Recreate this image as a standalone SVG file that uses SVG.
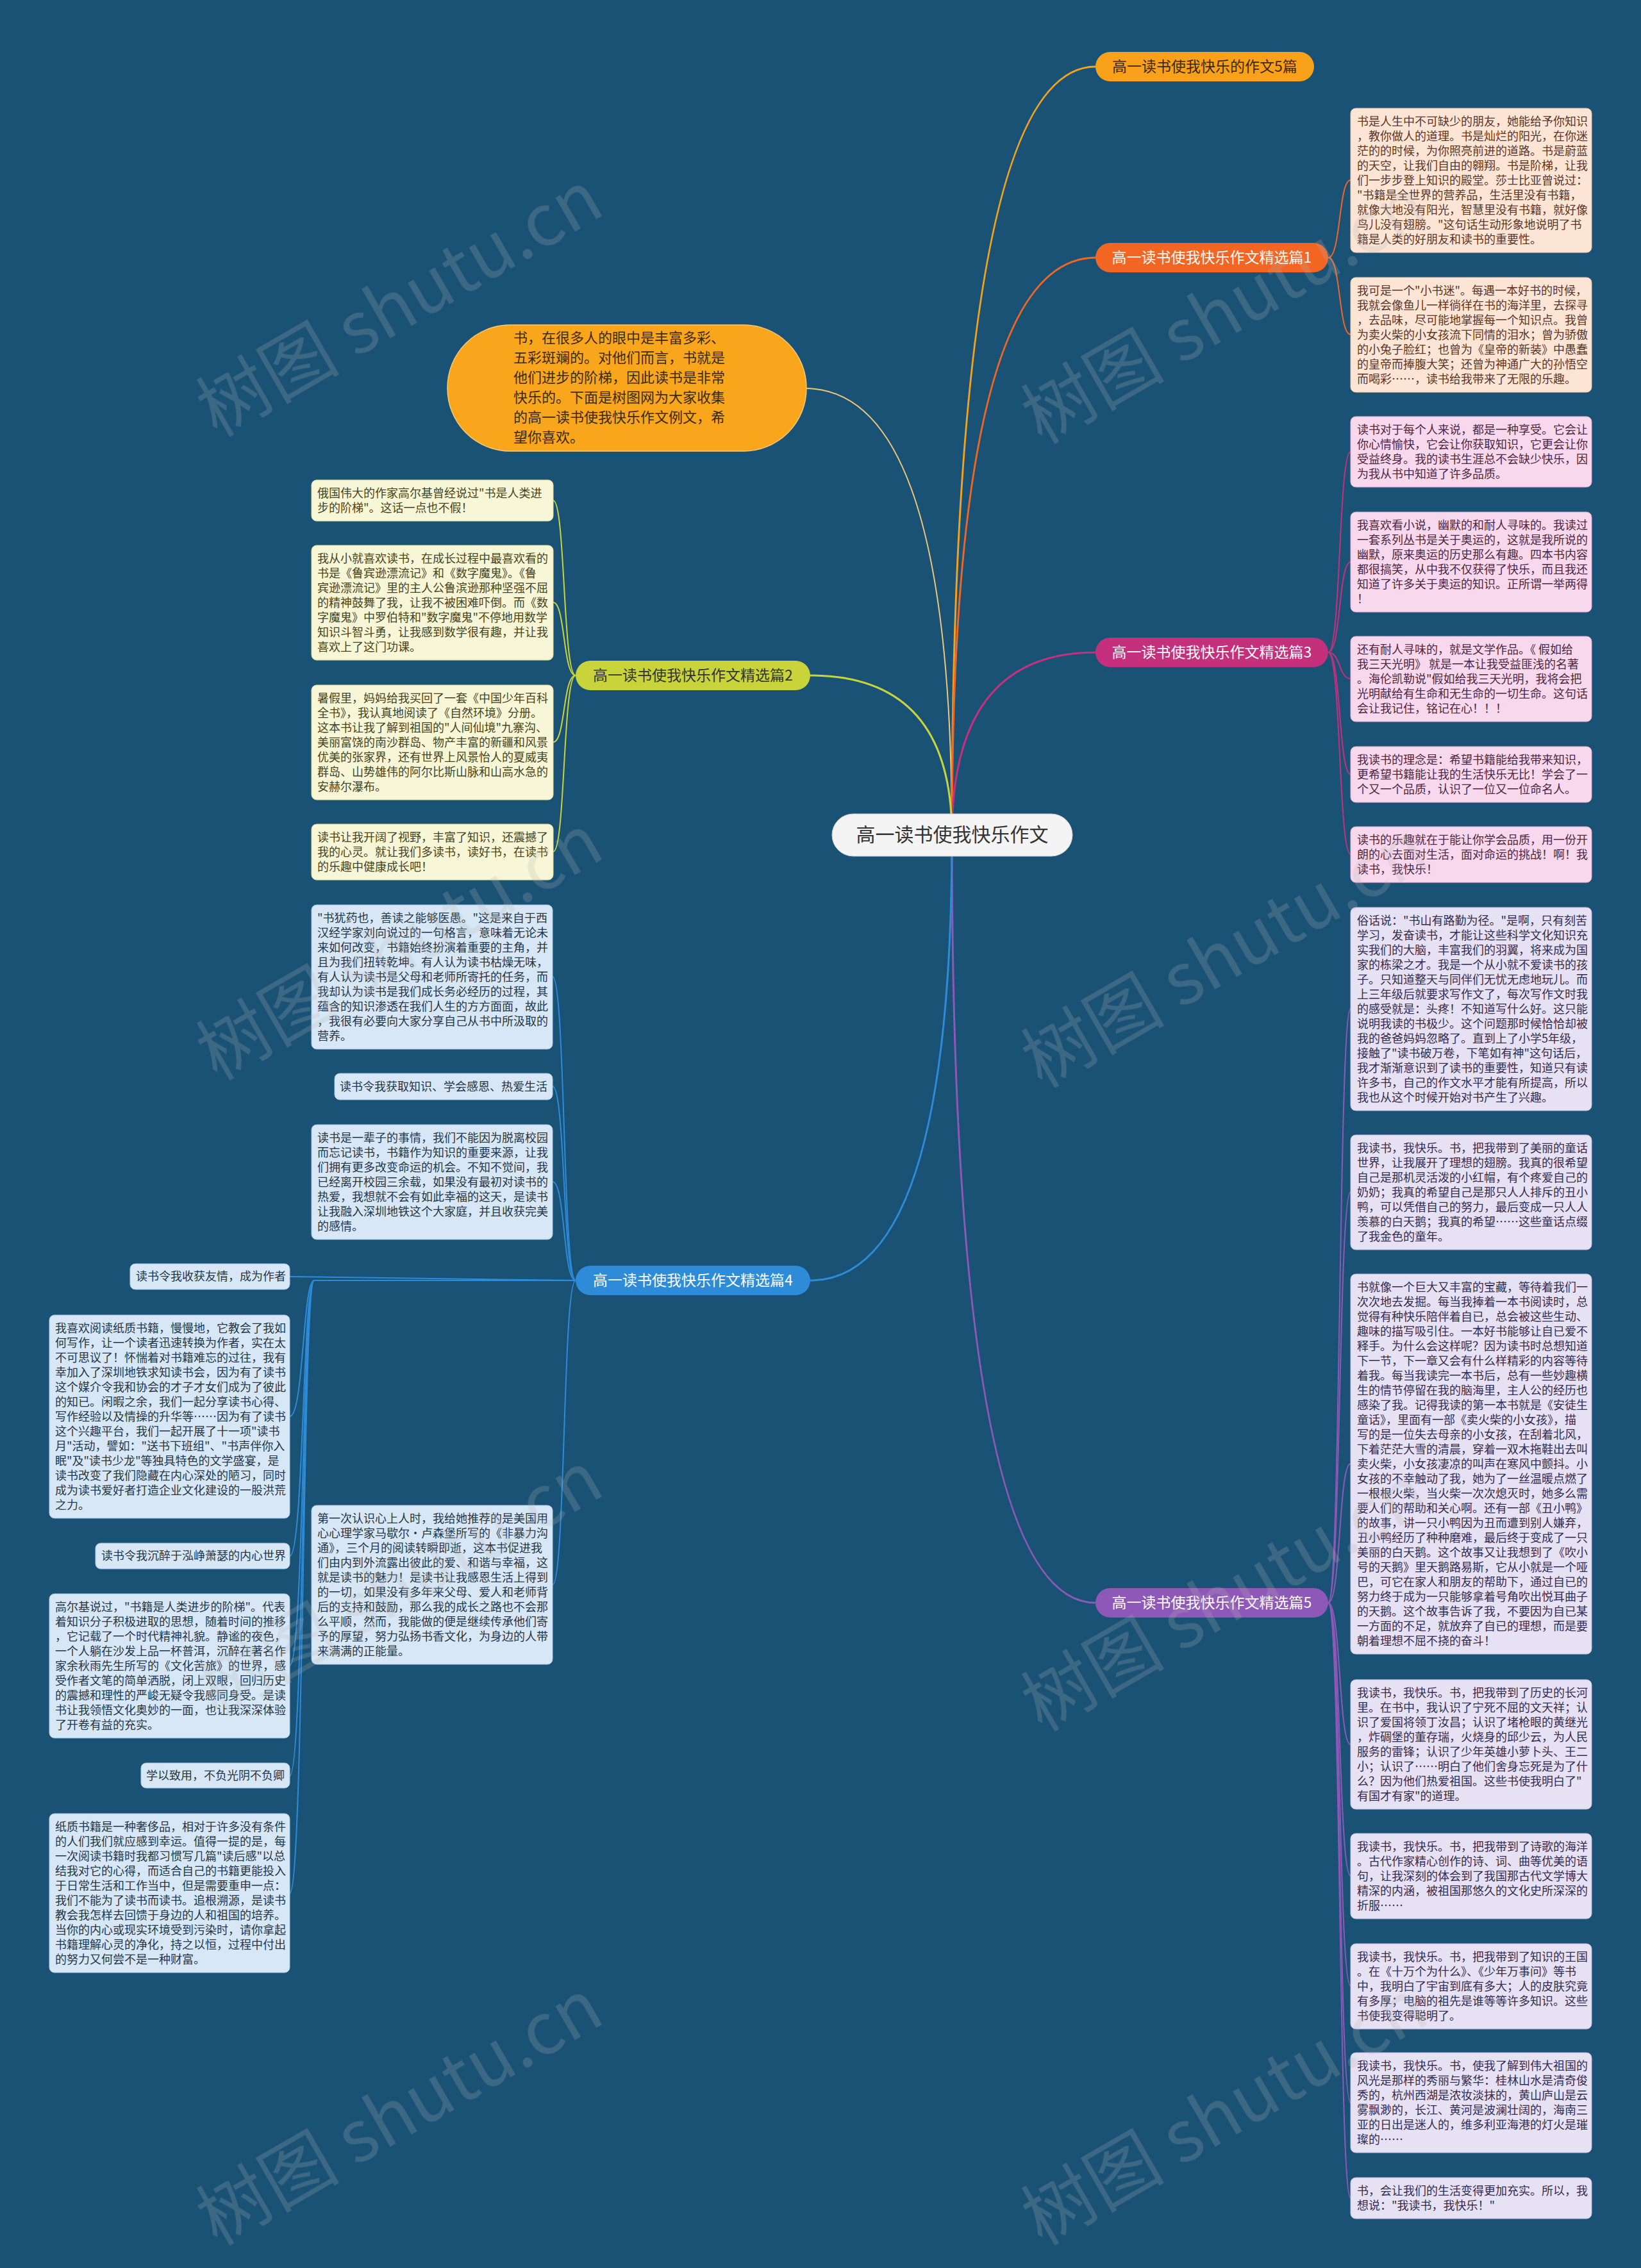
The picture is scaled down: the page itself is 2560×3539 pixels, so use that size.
<svg xmlns="http://www.w3.org/2000/svg" width="2560" height="3539" viewBox="0 0 2560 3539">
<style>
text{font-family:"Noto Sans CJK SC","Noto Sans",sans-serif}
.t{font-size:18px}
.lb{font-size:23px;text-anchor:middle}
.ln{fill:none;stroke-width:3}
.cn{fill:none;stroke-width:2}
.b1{fill:#fde5d6;stroke:#f6c2a4;stroke-width:1}
.b3{fill:#f7d8ec;stroke:#e9a9cf;stroke-width:1}
.b5{fill:#e6e1f3;stroke:#c6bce3;stroke-width:1}
.b2{fill:#f7f6d6;stroke:#dfe09a;stroke-width:1}
.b4{fill:#d8e7f5;stroke:#a9c9ea;stroke-width:1}
.x1{fill:#5a3526}.x3{fill:#4d2640}.x5{fill:#342c4f}.x2{fill:#45441c}.x4{fill:#243647}
.wm{font-family:"Liberation Serif","Noto Sans CJK SC",serif;font-size:112px;fill:#b8b8b8;opacity:0.22}
</style>
<rect width="2560" height="3539" fill="#1a5276"/>

<g id="connectors">
<path class="ln" stroke="#f5a31a" d="M1485 1303 Q1485 104 1709 104"/>
<path class="cn" stroke="#f2c77a" d="M1485 1303 Q1485 606 1256 606"/>
<path class="ln" stroke="#f26522" d="M1485 1303 Q1485 402 1709 402"/>
<path class="ln" stroke="#c4307c" d="M1485 1303 Q1485 1018 1709 1018"/>
<path class="ln" stroke="#8e58b8" d="M1485 1303 Q1485 2501 1709 2501"/>
<path class="ln" stroke="#c8d43a" d="M1485 1303 Q1485 1054 1264 1054"/>
<path class="ln" stroke="#2e8bd8" d="M1485 1303 Q1485 1998 1264 1998"/>

<g stroke="#f26522">
<path class="cn" d="M2072 402 C2092 402 2088 281 2107 281"/>
<path class="cn" d="M2072 402 C2092 402 2088 522 2107 522"/>
</g>
<g stroke="#c4307c">
<path class="cn" d="M2072 1018 C2092 1018 2088 705 2107 705"/>
<path class="cn" d="M2072 1018 C2092 1018 2088 877 2107 877"/>
<path class="cn" d="M2072 1018 C2092 1018 2088 1059 2107 1059"/>
<path class="cn" d="M2072 1018 C2092 1018 2088 1208 2107 1208"/>
<path class="cn" d="M2072 1018 C2092 1018 2088 1333 2107 1333"/>
</g>
<g stroke="#8e58b8">
<path class="cn" d="M2072 2501 C2092 2501 2088 1574 2107 1574"/>
<path class="cn" d="M2072 2501 C2092 2501 2088 1860 2107 1860"/>
<path class="cn" d="M2072 2501 C2092 2501 2088 2284 2107 2284"/>
<path class="cn" d="M2072 2501 C2092 2501 2088 2722 2107 2722"/>
<path class="cn" d="M2072 2501 C2092 2501 2088 2927 2107 2927"/>
<path class="cn" d="M2072 2501 C2092 2501 2088 3099 2107 3099"/>
<path class="cn" d="M2072 2501 C2092 2501 2088 3281 2107 3281"/>
<path class="cn" d="M2072 2501 C2092 2501 2088 3430 2107 3430"/>
</g>
<g stroke="#c8d43a">
<path class="cn" d="M898 1054 C878 1054 882 781 863 781"/>
<path class="cn" d="M898 1054 C878 1054 882 940 863 940"/>
<path class="cn" d="M898 1054 C878 1054 882 1158 863 1158"/>
<path class="cn" d="M898 1054 C878 1054 882 1329 863 1329"/>
</g>
<g stroke="#2e8bd8">
<path class="cn" d="M898 1998 C878 1998 882 1524 862 1524"/>
<path class="cn" d="M898 1998 C878 1998 882 1695 862 1695"/>
<path class="cn" d="M898 1998 C878 1998 882 1844 862 1844"/>
<path class="cn" d="M898 1998 C878 1998 882 2473 862 2473"/>
<path class="cn" d="M898 1998 L452 1992"/>
<path class="cn" d="M898 1998 L490 1998 C472 1998 474 2210 452 2210"/>
<path class="cn" d="M898 1998 L490 1998 C472 1998 474 2428 452 2428"/>
<path class="cn" d="M898 1998 L490 1998 C472 1998 474 2599 452 2599"/>
<path class="cn" d="M898 1998 L490 1998 C472 1998 474 2771 452 2771"/>
<path class="cn" d="M898 1998 L490 1998 C472 1998 474 2954 452 2954"/>
</g>
</g>

<g id="center">
<rect x="1298" y="1270" width="375" height="66" rx="33" fill="#f4f4f4" stroke="#d0d0d0"/>
<text x="1485.5" y="1313" font-size="30" text-anchor="middle" fill="#333333">高一读书使我快乐作文</text>
</g>

<g id="intro">
<rect x="698" y="507" width="560" height="197" rx="98" fill="#f9a61c" stroke="#f6c775" stroke-width="1.5"/>
<text font-size="22" fill="#3a2a10">
<tspan x="801" y="535">书，在很多人的眼中是丰富多彩、</tspan>
<tspan x="801" y="566">五彩斑斓的。对他们而言，书就是</tspan>
<tspan x="801" y="597">他们进步的阶梯，因此读书是非常</tspan>
<tspan x="801" y="628">快乐的。下面是树图网为大家收集</tspan>
<tspan x="801" y="659">的高一读书使我快乐作文例文，希</tspan>
<tspan x="801" y="690">望你喜欢。</tspan>
</text>
</g>

<g id="label-5pian">
<rect x="1709" y="81" width="341" height="46" rx="23" fill="#f9a11b"/>
<text class="lb" x="1879.5" y="112" fill="#3a2800">高一读书使我快乐的作文5篇</text>
</g>
<g id="label-p1">
<rect x="1709" y="379" width="363" height="46" rx="23" fill="#f26522"/>
<text class="lb" x="1890.5" y="410" fill="#ffffff">高一读书使我快乐作文精选篇1</text>
</g>
<g id="label-p3">
<rect x="1709" y="995" width="363" height="46" rx="23" fill="#c4307c"/>
<text class="lb" x="1890.5" y="1026" fill="#ffffff">高一读书使我快乐作文精选篇3</text>
</g>
<g id="label-p5">
<rect x="1709" y="2478" width="363" height="46" rx="23" fill="#8e58b8"/>
<text class="lb" x="1890.5" y="2509" fill="#ffffff">高一读书使我快乐作文精选篇5</text>
</g>
<g id="label-p2">
<rect x="898" y="1031" width="366" height="46" rx="23" fill="#c8d43a"/>
<text class="lb" x="1081" y="1062" fill="#333333">高一读书使我快乐作文精选篇2</text>
</g>
<g id="label-p4">
<rect x="898" y="1975" width="366" height="46" rx="23" fill="#2e8bd8"/>
<text class="lb" x="1081" y="2006" fill="#ffffff">高一读书使我快乐作文精选篇4</text>
</g>

<g id="p1-a">
<rect class="b1" x="2107" y="169" width="376" height="225" rx="8"/>
<text class="t x1"><tspan x="2117" y="196">书是人生中不可缺少的朋友，她能给予你知识</tspan><tspan x="2117" dy="23">，教你做人的道理。书是灿烂的阳光，在你迷</tspan><tspan x="2117" dy="23">茫的的时候，为你照亮前进的道路。书是蔚蓝</tspan><tspan x="2117" dy="23">的天空，让我们自由的翱翔。书是阶梯，让我</tspan><tspan x="2117" dy="23">们一步步登上知识的殿堂。莎士比亚曾说过：</tspan><tspan x="2117" dy="23">"书籍是全世界的营养品，生活里没有书籍，</tspan><tspan x="2117" dy="23">就像大地没有阳光，智慧里没有书籍，就好像</tspan><tspan x="2117" dy="23">鸟儿没有翅膀。"这句话生动形象地说明了书</tspan><tspan x="2117" dy="23">籍是人类的好朋友和读书的重要性。</tspan></text>
</g>
<g id="p1-b">
<rect class="b1" x="2107" y="433" width="376" height="179" rx="8"/>
<text class="t x1"><tspan x="2117" y="460">我可是一个"小书迷"。每遇一本好书的时候，</tspan><tspan x="2117" dy="23">我就会像鱼儿一样徜徉在书的海洋里，去探寻</tspan><tspan x="2117" dy="23">，去品味，尽可能地掌握每一个知识点。我曾</tspan><tspan x="2117" dy="23">为卖火柴的小女孩流下同情的泪水；曾为骄傲</tspan><tspan x="2117" dy="23">的小兔子脸红；也曾为《皇帝的新装》中愚蠢</tspan><tspan x="2117" dy="23">的皇帝而捧腹大笑；还曾为神通广大的孙悟空</tspan><tspan x="2117" dy="23">而喝彩……，读书给我带来了无限的乐趣。</tspan></text>
</g>

<g id="p3-a">
<rect class="b3" x="2107" y="650" width="376" height="110" rx="8"/>
<text class="t x3"><tspan x="2117" y="677">读书对于每个人来说，都是一种享受。它会让</tspan><tspan x="2117" dy="23">你心情愉快，它会让你获取知识，它更会让你</tspan><tspan x="2117" dy="23">受益终身。我的读书生涯总不会缺少快乐，因</tspan><tspan x="2117" dy="23">为我从书中知道了许多品质。</tspan></text>
</g>
<g id="p3-b">
<rect class="b3" x="2107" y="799" width="376" height="156" rx="8"/>
<text class="t x3"><tspan x="2117" y="826">我喜欢看小说，幽默的和耐人寻味的。我读过</tspan><tspan x="2117" dy="23">一套系列丛书是关于奥运的，这就是我所说的</tspan><tspan x="2117" dy="23">幽默，原来奥运的历史那么有趣。四本书内容</tspan><tspan x="2117" dy="23">都很搞笑，从中我不仅获得了快乐，而且我还</tspan><tspan x="2117" dy="23">知道了许多关于奥运的知识。正所谓一举两得</tspan><tspan x="2117" dy="23">！</tspan></text>
</g>
<g id="p3-c">
<rect class="b3" x="2107" y="993" width="376" height="133" rx="8"/>
<text class="t x3"><tspan x="2117" y="1020">还有耐人寻味的，就是文学作品。《 假如给</tspan><tspan x="2117" dy="23">我三天光明》 就是一本让我受益匪浅的名著</tspan><tspan x="2117" dy="23">。海伦凯勒说"假如给我三天光明，我将会把</tspan><tspan x="2117" dy="23">光明献给有生命和无生命的一切生命。这句话</tspan><tspan x="2117" dy="23">会让我记住，铭记在心！！！</tspan></text>
</g>
<g id="p3-d">
<rect class="b3" x="2107" y="1165" width="376" height="87" rx="8"/>
<text class="t x3"><tspan x="2117" y="1192">我读书的理念是：希望书籍能给我带来知识，</tspan><tspan x="2117" dy="23">更希望书籍能让我的生活快乐无比！学会了一</tspan><tspan x="2117" dy="23">个又一个品质，认识了一位又一位命名人。</tspan></text>
</g>
<g id="p3-e">
<rect class="b3" x="2107" y="1290" width="376" height="87" rx="8"/>
<text class="t x3"><tspan x="2117" y="1317">读书的乐趣就在于能让你学会品质，用一份开</tspan><tspan x="2117" dy="23">朗的心去面对生活，面对命运的挑战！啊！我</tspan><tspan x="2117" dy="23">读书，我快乐！</tspan></text>
</g>

<g id="p5-a">
<rect class="b5" x="2107" y="1416" width="376" height="317" rx="8"/>
<text class="t x5"><tspan x="2117" y="1443">俗话说："书山有路勤为径。"是啊，只有刻苦</tspan><tspan x="2117" dy="23">学习，发奋读书，才能让这些科学文化知识充</tspan><tspan x="2117" dy="23">实我们的大脑，丰富我们的羽翼，将来成为国</tspan><tspan x="2117" dy="23">家的栋梁之才。我是一个从小就不爱读书的孩</tspan><tspan x="2117" dy="23">子。只知道整天与同伴们无忧无虑地玩儿。而</tspan><tspan x="2117" dy="23">上三年级后就要求写作文了，每次写作文时我</tspan><tspan x="2117" dy="23">的感受就是：头疼！不知道写什么好。这只能</tspan><tspan x="2117" dy="23">说明我读的书极少。这个问题那时候恰恰却被</tspan><tspan x="2117" dy="23">我的爸爸妈妈忽略了。直到上了小学5年级，</tspan><tspan x="2117" dy="23">接触了"读书破万卷，下笔如有神"这句话后，</tspan><tspan x="2117" dy="23">我才渐渐意识到了读书的重要性，知道只有读</tspan><tspan x="2117" dy="23">许多书，自己的作文水平才能有所提高，所以</tspan><tspan x="2117" dy="23">我也从这个时候开始对书产生了兴趣。</tspan></text>
</g>
<g id="p5-b">
<rect class="b5" x="2107" y="1771" width="376" height="179" rx="8"/>
<text class="t x5"><tspan x="2117" y="1798">我读书，我快乐。书，把我带到了美丽的童话</tspan><tspan x="2117" dy="23">世界，让我展开了理想的翅膀。我真的很希望</tspan><tspan x="2117" dy="23">自己是那机灵活泼的小红帽，有个疼爱自己的</tspan><tspan x="2117" dy="23">奶奶；我真的希望自己是那只人人排斥的丑小</tspan><tspan x="2117" dy="23">鸭，可以凭借自己的努力，最后变成一只人人</tspan><tspan x="2117" dy="23">羡慕的白天鹅；我真的希望……这些童话点缀</tspan><tspan x="2117" dy="23">了我金色的童年。</tspan></text>
</g>
<g id="p5-c">
<rect class="b5" x="2107" y="1988" width="376" height="593" rx="8"/>
<text class="t x5"><tspan x="2117" y="2015">书就像一个巨大又丰富的宝藏，等待着我们一</tspan><tspan x="2117" dy="23">次次地去发掘。每当我捧着一本书阅读时，总</tspan><tspan x="2117" dy="23">觉得有种快乐陪伴着自已，总会被这些生动、</tspan><tspan x="2117" dy="23">趣味的描写吸引住。一本好书能够让自已爱不</tspan><tspan x="2117" dy="23">释手。为什么会这样呢？因为读书时总想知道</tspan><tspan x="2117" dy="23">下一节，下一章又会有什么样精彩的内容等待</tspan><tspan x="2117" dy="23">着我。每当我读完一本书后，总有一些妙趣横</tspan><tspan x="2117" dy="23">生的情节停留在我的脑海里，主人公的经历也</tspan><tspan x="2117" dy="23">感染了我。记得我读的第一本书就是《安徒生</tspan><tspan x="2117" dy="23">童话》，里面有一部《卖火柴的小女孩》，描</tspan><tspan x="2117" dy="23">写的是一位失去母亲的小女孩，在刮着北风，</tspan><tspan x="2117" dy="23">下着茫茫大雪的清晨，穿着一双木拖鞋出去叫</tspan><tspan x="2117" dy="23">卖火柴，小女孩凄凉的叫声在寒风中颤抖。小</tspan><tspan x="2117" dy="23">女孩的不幸触动了我，她为了一丝温暖点燃了</tspan><tspan x="2117" dy="23">一根根火柴，当火柴一次次熄灭时，她多么需</tspan><tspan x="2117" dy="23">要人们的帮助和关心啊。还有一部《丑小鸭》</tspan><tspan x="2117" dy="23">的故事，讲一只小鸭因为丑而遭到别人嫌弃，</tspan><tspan x="2117" dy="23">丑小鸭经历了种种磨难，最后终于变成了一只</tspan><tspan x="2117" dy="23">美丽的白天鹅。这个故事又让我想到了《吹小</tspan><tspan x="2117" dy="23">号的天鹅》里天鹅路易斯，它从小就是一个哑</tspan><tspan x="2117" dy="23">巴，可它在家人和朋友的帮助下，通过自已的</tspan><tspan x="2117" dy="23">努力终于成为一只能够拿着号角吹出悦耳曲子</tspan><tspan x="2117" dy="23">的天鹅。这个故事告诉了我，不要因为自已某</tspan><tspan x="2117" dy="23">一方面的不足，就放弃了自已的理想，而是要</tspan><tspan x="2117" dy="23">朝着理想不屈不挠的奋斗！</tspan></text>
</g>
<g id="p5-d">
<rect class="b5" x="2107" y="2621" width="376" height="202" rx="8"/>
<text class="t x5"><tspan x="2117" y="2648">我读书，我快乐。书，把我带到了历史的长河</tspan><tspan x="2117" dy="23">里。在书中，我认识了宁死不屈的文天祥；认</tspan><tspan x="2117" dy="23">识了爱国将领丁汝昌；认识了堵枪眼的黄继光</tspan><tspan x="2117" dy="23">，炸碉堡的董存瑞，火烧身的邱少云，为人民</tspan><tspan x="2117" dy="23">服务的雷锋；认识了少年英雄小萝卜头、王二</tspan><tspan x="2117" dy="23">小；认识了……明白了他们舍身忘死是为了什</tspan><tspan x="2117" dy="23">么？因为他们热爱祖国。这些书使我明白了"</tspan><tspan x="2117" dy="23">有国才有家"的道理。</tspan></text>
</g>
<g id="p5-e">
<rect class="b5" x="2107" y="2861" width="376" height="133" rx="8"/>
<text class="t x5"><tspan x="2117" y="2888">我读书，我快乐。书，把我带到了诗歌的海洋</tspan><tspan x="2117" dy="23">。古代作家精心创作的诗、词、曲等优美的语</tspan><tspan x="2117" dy="23">句，让我深刻的体会到了我国那古代文学博大</tspan><tspan x="2117" dy="23">精深的内涵，被祖国那悠久的文化史所深深的</tspan><tspan x="2117" dy="23">折服……</tspan></text>
</g>
<g id="p5-f">
<rect class="b5" x="2107" y="3033" width="376" height="133" rx="8"/>
<text class="t x5"><tspan x="2117" y="3060">我读书，我快乐。书，把我带到了知识的王国</tspan><tspan x="2117" dy="23">。在《十万个为什么》、《少年万事问》等书</tspan><tspan x="2117" dy="23">中，我明白了宇宙到底有多大；人的皮肤究竟</tspan><tspan x="2117" dy="23">有多厚；电脑的祖先是谁等等许多知识。这些</tspan><tspan x="2117" dy="23">书使我变得聪明了。</tspan></text>
</g>
<g id="p5-g">
<rect class="b5" x="2107" y="3203" width="376" height="156" rx="8"/>
<text class="t x5"><tspan x="2117" y="3230">我读书，我快乐。书，使我了解到伟大祖国的</tspan><tspan x="2117" dy="23">风光是那样的秀丽与繁华：桂林山水是清奇俊</tspan><tspan x="2117" dy="23">秀的，杭州西湖是浓妆淡抹的，黄山庐山是云</tspan><tspan x="2117" dy="23">雾飘渺的，长江、黄河是波澜壮阔的，海南三</tspan><tspan x="2117" dy="23">亚的日出是迷人的，维多利亚海港的灯火是璀</tspan><tspan x="2117" dy="23">璨的……</tspan></text>
</g>
<g id="p5-h">
<rect class="b5" x="2107" y="3398" width="376" height="64" rx="8"/>
<text class="t x5"><tspan x="2117" y="3425">书，会让我们的生活变得更加充实。所以，我</tspan><tspan x="2117" dy="23">想说："我读书，我快乐！"</tspan></text>
</g>

<g id="p2-a">
<rect class="b2" x="486" y="749" width="377" height="64" rx="8"/>
<text class="t x2"><tspan x="495" y="776">俄国伟大的作家高尔基曾经说过"书是人类进</tspan><tspan x="495" dy="23">步的阶梯"。这话一点也不假！</tspan></text>
</g>
<g id="p2-b">
<rect class="b2" x="486" y="851" width="377" height="179" rx="8"/>
<text class="t x2"><tspan x="495" y="878">我从小就喜欢读书，在成长过程中最喜欢看的</tspan><tspan x="495" dy="23">书是《鲁宾逊漂流记》和《数字魔鬼》。《鲁</tspan><tspan x="495" dy="23">宾逊漂流记》里的主人公鲁滨逊那种坚强不屈</tspan><tspan x="495" dy="23">的精神鼓舞了我，让我不被困难吓倒。而《数</tspan><tspan x="495" dy="23">字魔鬼》中罗伯特和"数字魔鬼"不停地用数学</tspan><tspan x="495" dy="23">知识斗智斗勇，让我感到数学很有趣，并让我</tspan><tspan x="495" dy="23">喜欢上了这门功课。</tspan></text>
</g>
<g id="p2-c">
<rect class="b2" x="486" y="1069" width="377" height="179" rx="8"/>
<text class="t x2"><tspan x="495" y="1096">暑假里，妈妈给我买回了一套《中国少年百科</tspan><tspan x="495" dy="23">全书》，我认真地阅读了《自然环境》分册。</tspan><tspan x="495" dy="23">这本书让我了解到祖国的"人间仙境"九寨沟、</tspan><tspan x="495" dy="23">美丽富饶的南沙群岛、物产丰富的新疆和风景</tspan><tspan x="495" dy="23">优美的张家界，还有世界上风景怡人的夏威夷</tspan><tspan x="495" dy="23">群岛、山势雄伟的阿尔比斯山脉和山高水急的</tspan><tspan x="495" dy="23">安赫尔瀑布。</tspan></text>
</g>
<g id="p2-d">
<rect class="b2" x="486" y="1286" width="377" height="87" rx="8"/>
<text class="t x2"><tspan x="495" y="1313">读书让我开阔了视野，丰富了知识，还震撼了</tspan><tspan x="495" dy="23">我的心灵。就让我们多读书，读好书，在读书</tspan><tspan x="495" dy="23">的乐趣中健康成长吧！</tspan></text>
</g>

<g id="p4-a">
<rect class="b4" x="486" y="1412" width="376" height="225" rx="8"/>
<text class="t x4"><tspan x="495" y="1439">"书犹药也，善读之能够医愚。"这是来自于西</tspan><tspan x="495" dy="23">汉经学家刘向说过的一句格言，意味着无论未</tspan><tspan x="495" dy="23">来如何改变，书籍始终扮演着重要的主角，并</tspan><tspan x="495" dy="23">且为我们扭转乾坤。有人认为读书枯燥无味，</tspan><tspan x="495" dy="23">有人认为读书是父母和老师所寄托的任务，而</tspan><tspan x="495" dy="23">我却认为读书是我们成长务必经历的过程，其</tspan><tspan x="495" dy="23">蕴含的知识渗透在我们人生的方方面面，故此</tspan><tspan x="495" dy="23">，我很有必要向大家分享自己从书中所汲取的</tspan><tspan x="495" dy="23">营养。</tspan></text>
</g>
<g id="p4-b">
<rect class="b4" x="522" y="1675" width="340" height="41" rx="8"/>
<text class="t x4" x="530" y="1702">读书令我获取知识、学会感恩、热爱生活</text>
</g>
<g id="p4-c">
<rect class="b4" x="486" y="1755" width="376" height="179" rx="8"/>
<text class="t x4"><tspan x="495" y="1782">读书是一辈子的事情，我们不能因为脱离校园</tspan><tspan x="495" dy="23">而忘记读书，书籍作为知识的重要来源，让我</tspan><tspan x="495" dy="23">们拥有更多改变命运的机会。不知不觉间，我</tspan><tspan x="495" dy="23">已经离开校园三余载，如果没有最初对读书的</tspan><tspan x="495" dy="23">热爱，我想就不会有如此幸福的这天，是读书</tspan><tspan x="495" dy="23">让我融入深圳地铁这个大家庭，并且收获完美</tspan><tspan x="495" dy="23">的感情。</tspan></text>
</g>
<g id="p4-d">
<rect class="b4" x="486" y="2349" width="376" height="248" rx="8"/>
<text class="t x4"><tspan x="495" y="2376">第一次认识心上人时，我给她推荐的是美国用</tspan><tspan x="495" dy="23">心心理学家马歇尔·卢森堡所写的《非暴力沟</tspan><tspan x="495" dy="23">通》，三个月的阅读转瞬即逝，这本书促进我</tspan><tspan x="495" dy="23">们由内到外流露出彼此的爱、和谐与幸福，这</tspan><tspan x="495" dy="23">就是读书的魅力！是读书让我感恩生活上得到</tspan><tspan x="495" dy="23">的一切，如果没有多年来父母、爱人和老师背</tspan><tspan x="495" dy="23">后的支持和鼓励，那么我的成长之路也不会那</tspan><tspan x="495" dy="23">么平顺，然而，我能做的便是继续传承他们寄</tspan><tspan x="495" dy="23">予的厚望，努力弘扬书香文化，为身边的人带</tspan><tspan x="495" dy="23">来满满的正能量。</tspan></text>
</g>
<g id="p4-e">
<rect class="b4" x="203" y="1972" width="249" height="40" rx="8"/>
<text class="t x4" x="212" y="1998">读书令我收获友情，成为作者</text>
</g>
<g id="p4-f">
<rect class="b4" x="77" y="2052" width="375" height="317" rx="8"/>
<text class="t x4"><tspan x="86" y="2079">我喜欢阅读纸质书籍，慢慢地，它教会了我如</tspan><tspan x="86" dy="23">何写作，让一个读者迅速转换为作者，实在太</tspan><tspan x="86" dy="23">不可思议了！怀惴着对书籍难忘的过往，我有</tspan><tspan x="86" dy="23">幸加入了深圳地铁求知读书会，因为有了读书</tspan><tspan x="86" dy="23">这个媒介令我和协会的才子才女们成为了彼此</tspan><tspan x="86" dy="23">的知已。闲暇之余，我们一起分享读书心得、</tspan><tspan x="86" dy="23">写作经验以及情操的升华等……因为有了读书</tspan><tspan x="86" dy="23">这个兴趣平台，我们一起开展了十一项"读书</tspan><tspan x="86" dy="23">月"活动，譬如："送书下班组"、"书声伴你入</tspan><tspan x="86" dy="23">眠"及"读书少龙"等独具特色的文学盛宴，是</tspan><tspan x="86" dy="23">读书改变了我们隐藏在内心深处的陋习，同时</tspan><tspan x="86" dy="23">成为读书爱好者打造企业文化建设的一股洪荒</tspan><tspan x="86" dy="23">之力。</tspan></text>
</g>
<g id="p4-g">
<rect class="b4" x="149" y="2408" width="303" height="40" rx="8"/>
<text class="t x4" x="158" y="2434">读书令我沉醉于泓峥萧瑟的内心世界</text>
</g>
<g id="p4-h">
<rect class="b4" x="77" y="2487" width="375" height="225" rx="8"/>
<text class="t x4"><tspan x="86" y="2514">高尔基说过，"书籍是人类进步的阶梯"。代表</tspan><tspan x="86" dy="23">着知识分子积极进取的思想，随着时间的推移</tspan><tspan x="86" dy="23">，它记载了一个时代精神礼貌。静谧的夜色，</tspan><tspan x="86" dy="23">一个人躺在沙发上品一杯普洱，沉醉在著名作</tspan><tspan x="86" dy="23">家余秋雨先生所写的《文化苦旅》的世界，感</tspan><tspan x="86" dy="23">受作者文笔的简单洒脱，闭上双眼，回归历史</tspan><tspan x="86" dy="23">的震撼和理性的严峻无疑令我感同身受。是读</tspan><tspan x="86" dy="23">书让我领悟文化奥妙的一面，也让我深深体验</tspan><tspan x="86" dy="23">了开卷有益的充实。</tspan></text>
</g>
<g id="p4-i">
<rect class="b4" x="220" y="2751" width="232" height="39" rx="8"/>
<text class="t x4" x="228" y="2777">学以致用，不负光阴不负卿</text>
</g>
<g id="p4-j">
<rect class="b4" x="77" y="2830" width="375" height="248" rx="8"/>
<text class="t x4"><tspan x="86" y="2857">纸质书籍是一种奢侈品，相对于许多没有条件</tspan><tspan x="86" dy="23">的人们我们就应感到幸运。值得一提的是，每</tspan><tspan x="86" dy="23">一次阅读书籍时我都习惯写几篇"读后感"以总</tspan><tspan x="86" dy="23">结我对它的心得，而适合自己的书籍更能投入</tspan><tspan x="86" dy="23">于日常生活和工作当中，但是需要重申一点：</tspan><tspan x="86" dy="23">我们不能为了读书而读书。追根溯源，是读书</tspan><tspan x="86" dy="23">教会我怎样去回馈于身边的人和祖国的培养。</tspan><tspan x="86" dy="23">当你的内心或现实环境受到污染时，请你拿起</tspan><tspan x="86" dy="23">书籍理解心灵的净化，持之以恒，过程中付出</tspan><tspan x="86" dy="23">的努力又何尝不是一种财富。</tspan></text>
</g>

<g id="watermarks" class="wm">
<text transform="translate(643 508) rotate(-30)" text-anchor="middle">树图 shutu.cn</text>
<text transform="translate(1930 519) rotate(-30)" text-anchor="middle">树图 shutu.cn</text>
<text transform="translate(643 1512) rotate(-30)" text-anchor="middle">树图 shutu.cn</text>
<text transform="translate(1930 1524) rotate(-30)" text-anchor="middle">树图 shutu.cn</text>
<text transform="translate(643 2506) rotate(-30)" text-anchor="middle">树图 shutu.cn</text>
<text transform="translate(1930 2528) rotate(-30)" text-anchor="middle">树图 shutu.cn</text>
<text transform="translate(643 3330) rotate(-30)" text-anchor="middle">树图 shutu.cn</text>
<text transform="translate(1930 3330) rotate(-30)" text-anchor="middle">树图 shutu.cn</text>
</g>
</svg>
